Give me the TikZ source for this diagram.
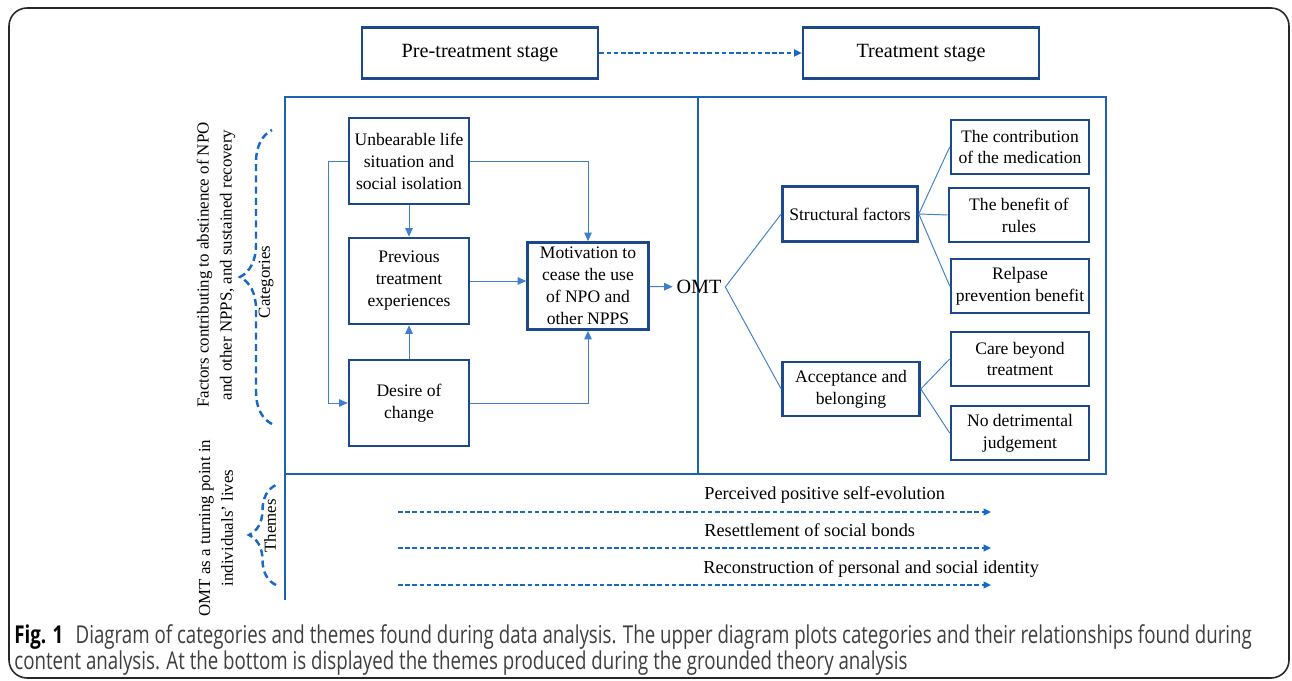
\documentclass[tikz,border=0pt]{standalone}
\usepackage{fontspec}
\setmainfont{Liberation Serif}
\newfontfamily\capfont[FakeStretch=0.76]{Open Sans}
\usepackage{xcolor}
\usepackage{tikz}
\usetikzlibrary{positioning, arrows.meta, decorations.pathreplacing, calc}
\definecolor{boxblue}{RGB}{28,72,140}
\definecolor{frameblue}{RGB}{30,98,178}
\definecolor{linkblue}{RGB}{62,128,206}
\definecolor{dashblue}{RGB}{24,104,200}
\definecolor{capgrey}{RGB}{62,62,62}
\definecolor{rimgrey}{RGB}{40,40,40}

\begin{document}
\begin{tikzpicture}[x=0.2mm, y=-0.2mm, font=\fontsize{10}{12.5}\selectfont]
  \tikzset{
    cat/.style={draw=boxblue, line width=1.5pt, align=center, inner sep=1pt},
    stage/.style={cat, minimum width=47.2mm, minimum height=10.2mm, font=\fontsize{11.5}{14}\selectfont},
    leftbox/.style={cat, minimum width=24mm, minimum height=17.2mm},
    treebox/.style={cat, minimum width=27.6mm, minimum height=10.8mm},
    link/.style={draw=linkblue, line width=0.55pt},
    tip/.style={link, -{Triangle[length=1.7mm, width=1.5mm]}},
    theme/.style={draw=dashblue, line width=0.8pt, dash pattern=on 2.6pt off 1.5pt,
      -{Triangle[length=1.5mm, width=1.4mm]}},
    curly/.style={draw=dashblue, line width=1.4pt, dash pattern=on 4pt off 2.4pt,
      decorate, decoration={brace, amplitude=#1}},
    side/.style={rotate=90, align=center, font=\fontsize{9.6}{13}\selectfont},
    lbl/.style={font=\fontsize{10.4}{12.5}\selectfont, inner sep=0pt}}

  \useasboundingbox (0,0) rectangle (1292,681);

  % --- page rim
  \draw[rimgrey, line width=0.9pt, rounded corners=3.6mm] (9,8) rectangle (1289,678);

  % --- stages
  \node[stage] (pre) at (480,53) {Pre-treatment stage};
  \node[stage] (treat) at (921,53) {Treatment stage};
  \draw[theme, line width=1pt] (pre) -- (treat);

  % --- frame of the categories
  \draw[frameblue, line width=1.4pt] (285,600) -- (285,97) -- (1106,97) -- (1106,474) -- (285,474);
  \draw[frameblue, line width=0.6pt] (698,97) -- (698,474);

  % --- pre-treatment categories
  \node[leftbox] (unb) at (409,161) {Unbearable life\\situation and\\social isolation};
  \node[leftbox] (prev) at (409,281) {Previous\\treatment\\experiences};
  \node[leftbox] (desire) at (409,403) {Desire of\\change};
  \node[cat, minimum width=24.2mm, minimum height=17.4mm] (motiv) at (588,286)
    {Motivation to\\cease the use\\of NPO and\\other NPPS};
  \node[font=\fontsize{11.5}{14}\selectfont, inner sep=2pt] (omt) at (699,287) {OMT};

  \draw[tip] (unb) -- (prev);
  \draw[tip] (desire) -- (prev);
  \draw[tip] (unb.west) -- ++(-19,0) |- (desire.west);
  \draw[tip] (unb.east) -| (motiv.north);
  \draw[tip] (prev.east) -- (prev.east -| motiv.west);
  \draw[tip] (desire.east) -| (motiv.south);
  \draw[tip] (motiv) -- (omt);

  % --- treatment categories
  \node[cat, minimum width=27mm, minimum height=11mm] (struct) at (850,214) {Structural factors};
  \node[cat, minimum width=27.4mm, minimum height=10.8mm] (accept) at (851,389) {Acceptance and\\belonging};
  \node[treebox] (medic) at (1020,147) {The contribution\\of the medication};
  \node[treebox, minimum width=28mm] (rules) at (1019,215) {The benefit of\\rules};
  \node[treebox] (relapse) at (1020,286) {Relpase\\prevention benefit};
  \node[treebox] (care) at (1020,359) {Care beyond\\treatment};
  \node[treebox] (judge) at (1020,433) {No detrimental\\judgement};

  \draw[link] (omt.east) -- (struct.west);
  \draw[link] (omt.east) -- (accept.west);
  \foreach \leaf in {medic, rules, relapse}
    \draw[link] (struct.east) -- (\leaf.west);
  \foreach \leaf in {care, judge}
    \draw[link] (accept.east) -- (\leaf.west);

  % --- side labels
  \node[side] (factors) at (216,265) {Factors contributing to abstinence of NPO\\and other NPPS, and sustained recovery};
  \node[side] (cats) at (266,282) {Categories};
  \draw[curly=6.4mm] (272,424) -- (272,130);

  \node[side] (turning) at (216,528) {OMT as a turning point in\\individuals’ lives};
  \node[side] (themes) at (270,526) {Themes};
  \draw[curly=5.4mm] (276,585) -- (276,485);

  % --- themes
  \node[lbl, anchor=base west] (evol) at (704,499) {Perceived positive self-evolution};
  \node[lbl, anchor=base west] (bonds) at (704,536) {Resettlement of social bonds};
  \node[lbl, anchor=base west] (ident) at (703,573) {Reconstruction of personal and social identity};
  \coordinate (evolA) at (398,512);  \coordinate (evolB) at (991,512);
  \coordinate (bondsA) at (398,548); \coordinate (bondsB) at (991,548);
  \coordinate (identA) at (398,585); \coordinate (identB) at (991,585);
  \foreach \t in {evol, bonds, ident}
    \draw[theme] (\t A) -- (\t B);

  % --- caption
  \node[anchor=base west, inner sep=0pt, text=capgrey, font=\capfont\fontsize{14}{16}\selectfont] (cap1) at (14,643)
    {\textbf{\color{black}Fig. 1}\enspace Diagram of categories and themes found during data analysis. The upper diagram plots categories and their relationships found during};
  \node[anchor=base west, inner sep=0pt, text=capgrey, font=\capfont\fontsize{14}{16}\selectfont] (cap2) at (14,669)
    {content analysis. At the bottom is displayed the themes produced during the grounded theory analysis};
\end{tikzpicture}
\end{document}
